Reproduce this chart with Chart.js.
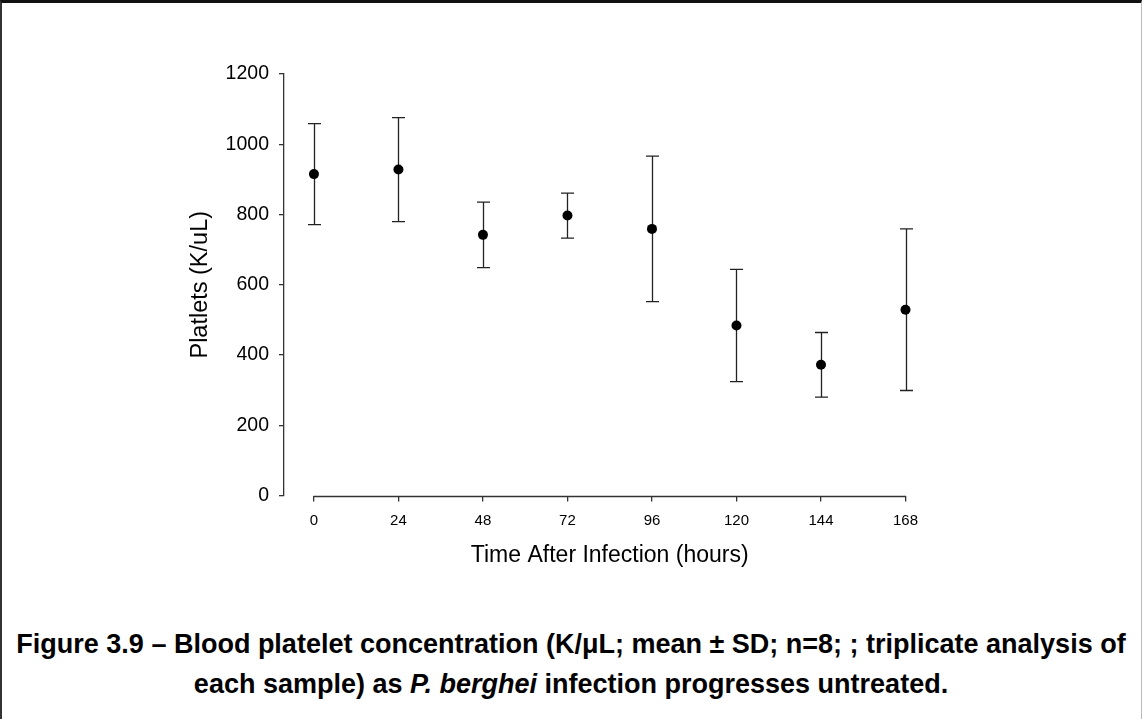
<!DOCTYPE html>
<html>
<head>
<meta charset="utf-8">
<script src="https://cdn.jsdelivr.net/npm/chart.js@4/dist/chart.umd.min.js"></script>
<style>
  html, body { margin: 0; padding: 0; background: #fff; }
  body { width: 1142px; height: 719px; position: relative; overflow: hidden; }
  #frame { position: absolute; left: 0; top: 0; width: 1142px; height: 719px;
           border-top: 3px solid #111; border-left: 2px solid #333; border-right: 1px solid #bbb; box-sizing: border-box; }
  #wrap { position: absolute; left: 0; top: 0; width: 1142px; height: 600px; }
  #caption { position: absolute; left: 0; top: 624px; width: 1142px; text-align: center;
             font-family: "Liberation Sans", Arial, sans-serif; font-weight: bold; font-size: 27px;
             line-height: 40px; color: #000; white-space: nowrap; }
</style>
</head>
<body>
<div id="frame"></div>
<div id="wrap"><canvas id="c" width="1142" height="600"></canvas></div>
<div id="caption">Figure 3.9 – Blood platelet concentration (K/μL; mean ± SD; n=8; ; triplicate analysis of<br>each sample) as <i>P. berghei</i> infection progresses untreated.</div>
<script>
// ---- data ----
const hours = [0, 24, 48, 72, 96, 120, 144, 168];
const platelets = [915, 928, 742, 797, 759, 484, 372, 529];
const sd = [144, 148, 93, 64, 207, 160, 92, 230];
const xTickValues = [0, 24, 48, 72, 96, 120, 144, 168];
const yTickValues = [0, 200, 400, 600, 800, 1000, 1200];
const xTitle = 'Time After Infection (hours)';
const yTitle = 'Platlets (K/uL)';

const FONT = '"Liberation Sans", Arial, sans-serif';
const AXIS = '#333';

const errorBars = {
  id: 'errorBars',
  beforeDatasetsDraw(chart) {
    const {ctx, scales: {x, y}} = chart;
    ctx.save();
    ctx.strokeStyle = '#222';
    ctx.lineWidth = 1.3;
    const cap = 6.5;
    hours.forEach((h, i) => {
      const px = Math.round(x.getPixelForValue(h)) + 0.5;
      const top = y.getPixelForValue(platelets[i] + sd[i]);
      const bot = y.getPixelForValue(platelets[i] - sd[i]);
      ctx.beginPath();
      ctx.moveTo(px, top); ctx.lineTo(px, bot);
      ctx.moveTo(px - cap, top); ctx.lineTo(px + cap, top);
      ctx.moveTo(px - cap, bot); ctx.lineTo(px + cap, bot);
      ctx.stroke();
    });
    ctx.restore();
  }
};

const xAxisExtras = {
  id: 'xAxisExtras',
  afterDraw(chart) {
    const {ctx, scales: {x}} = chart;
    const x0 = x.getPixelForValue(xTickValues[0]);
    const x1 = x.getPixelForValue(xTickValues[xTickValues.length - 1]);
    const yy = Math.round(x.top) + 0.5;
    ctx.save();
    ctx.strokeStyle = AXIS;
    ctx.lineWidth = 1.3;
    ctx.beginPath();
    ctx.moveTo(x0 - 0.5, yy); ctx.lineTo(x1 + 0.5, yy);
    ctx.stroke();
    // axis title centred under the drawn axis line
    ctx.fillStyle = '#000';
    ctx.font = '23px ' + FONT;
    ctx.textAlign = 'center';
    ctx.textBaseline = 'middle';
    ctx.fillText(xTitle, (x0 + x1) / 2, x.top + 60);
    ctx.restore();
  }
};

new Chart(document.getElementById('c'), {
  type: 'scatter',
  data: {
    datasets: [{
      data: hours.map((h, i) => ({x: h, y: platelets[i]})),
      backgroundColor: '#000',
      borderColor: '#000',
      borderWidth: 0,
      pointRadius: 5,
      pointHoverRadius: 5,
      showLine: false,
      clip: false
    }]
  },
  options: {
    responsive: false,
    animation: false,
    events: [],
    layout: { padding: { top: 74, left: 176, right: 236.5, bottom: 28 } },
    plugins: { legend: { display: false }, tooltip: { enabled: false } },
    scales: {
      x: {
        type: 'linear',
        min: -8.5,
        max: 168,
        afterBuildTicks: s => { s.ticks = xTickValues.map(v => ({value: v})); },
        afterFit: s => { s.height = 76.5; },
        border: { display: false },
        grid: { drawOnChartArea: false, drawTicks: true, tickLength: 6, color: AXIS, lineWidth: 1.3 },
        ticks: { color: '#000', font: { family: FONT, size: 15 }, padding: 10, maxRotation: 0, autoSkip: false,
                 callback: v => String(v) },
        title: { display: false }
      },
      y: {
        min: 0,
        max: 1200,
        afterBuildTicks: s => { s.ticks = yTickValues.map(v => ({value: v})); },
        afterFit: s => { s.width = 108; },
        border: { display: true, color: AXIS, width: 1.3 },
        grid: { drawOnChartArea: false, drawTicks: true, tickLength: 5, color: AXIS, lineWidth: 1.3 },
        ticks: { color: '#000', font: { family: FONT, size: 19.5 }, padding: 10, callback: v => String(v) },
        title: { display: true, text: yTitle, color: '#000', font: { family: FONT, size: 23.5 }, padding: { top: 10, bottom: 4 } }
      }
    }
  },
  plugins: [errorBars, xAxisExtras]
});
</script>
</body>
</html>
